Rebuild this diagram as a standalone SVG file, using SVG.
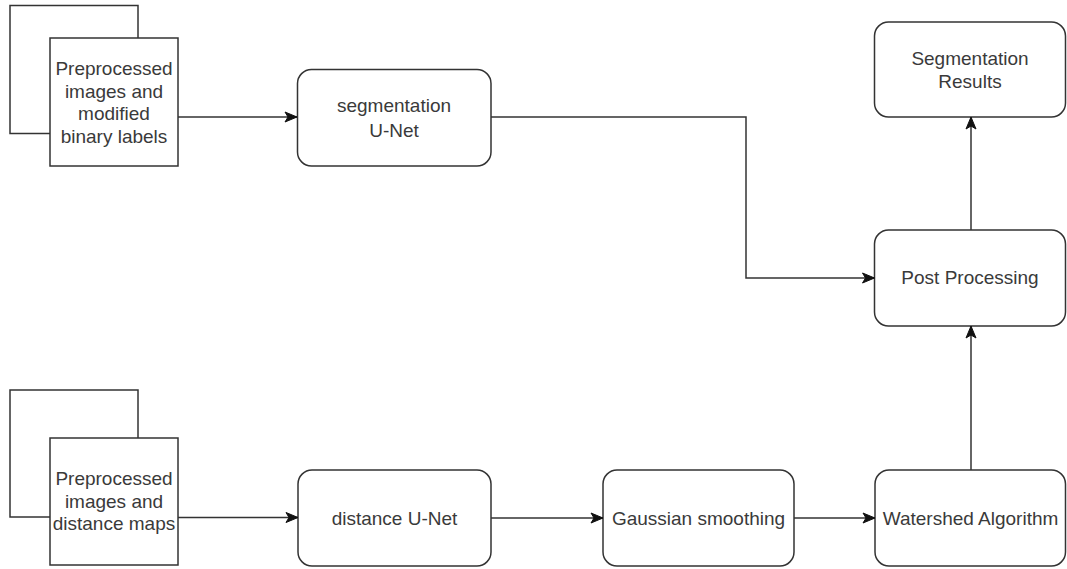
<svg xmlns="http://www.w3.org/2000/svg" width="1067" height="569" viewBox="0 0 1067 569">
  <defs>
    <style>
      .box { fill: #ffffff; stroke: #333333; stroke-width: 1.5; }
      .edge { fill: none; stroke: #333333; stroke-width: 1.5; }
      .lbl { font-family: "Liberation Sans", Arial, sans-serif; font-size: 19px; fill: #3a3a3a; text-anchor: middle; }
    </style>
    <marker id="arrow" markerUnits="userSpaceOnUse" markerWidth="14" markerHeight="12" refX="13" refY="6" orient="auto">
      <path d="M1,1 L13,6 L1,11 L4,6 Z" fill="#111111" stroke="#111111" stroke-width="1"/>
    </marker>
  </defs>
  <rect width="1067" height="569" fill="#ffffff"/>

  <!-- Input stack: images + binary labels -->
  <g id="input-binary">
    <rect class="box" x="10" y="5.5" width="128" height="128"/>
    <rect class="box" x="50" y="38" width="128" height="128"/>
    <text class="lbl" x="114" y="75">Preprocessed</text>
    <text class="lbl" x="114" y="97.5">images and</text>
    <text class="lbl" x="114" y="120">modified</text>
    <text class="lbl" x="114" y="142.5">binary labels</text>
  </g>

  <!-- Input stack: images + distance maps -->
  <g id="input-distance">
    <rect class="box" x="10" y="390" width="128" height="127"/>
    <rect class="box" x="50" y="438" width="128" height="127"/>
    <text class="lbl" x="114" y="485">Preprocessed</text>
    <text class="lbl" x="114" y="507.5">images and</text>
    <text class="lbl" x="114" y="530">distance maps</text>
  </g>

  <g id="seg-unet">
    <rect class="box" x="297.5" y="69.5" width="193.5" height="96.5" rx="14" ry="14"/>
    <text class="lbl" x="394" y="112">segmentation</text>
    <text class="lbl" x="394" y="137">U-Net</text>
  </g>

  <g id="dist-unet">
    <rect class="box" x="298" y="470" width="193" height="96" rx="14" ry="14"/>
    <text class="lbl" x="394.5" y="525">distance U-Net</text>
  </g>

  <g id="gaussian">
    <rect class="box" x="603" y="470" width="191" height="96" rx="14" ry="14"/>
    <text class="lbl" x="698.5" y="525">Gaussian smoothing</text>
  </g>

  <g id="watershed">
    <rect class="box" x="875" y="470" width="190.5" height="96" rx="14" ry="14"/>
    <text class="lbl" x="970.5" y="525">Watershed Algorithm</text>
  </g>

  <g id="post-processing">
    <rect class="box" x="874.5" y="230" width="191" height="96" rx="14" ry="14"/>
    <text class="lbl" x="970" y="284">Post Processing</text>
  </g>

  <g id="seg-results">
    <rect class="box" x="874.5" y="22" width="191" height="95" rx="14" ry="14"/>
    <text class="lbl" x="970" y="65">Segmentation</text>
    <text class="lbl" x="970" y="88">Results</text>
  </g>

  <g id="connectors">
    <path class="edge" d="M178,117 L297,117" marker-end="url(#arrow)"/>
    <path class="edge" d="M178,517.5 L298,517.5" marker-end="url(#arrow)"/>
    <path class="edge" d="M491,117 L746,117 L746,278 L874.5,278" marker-end="url(#arrow)"/>
    <path class="edge" d="M491,518 L603,518" marker-end="url(#arrow)"/>
    <path class="edge" d="M794,518 L875,518" marker-end="url(#arrow)"/>
    <path class="edge" d="M971,470 L971,326" marker-end="url(#arrow)"/>
    <path class="edge" d="M971,230 L971,117" marker-end="url(#arrow)"/>
  </g>
</svg>
